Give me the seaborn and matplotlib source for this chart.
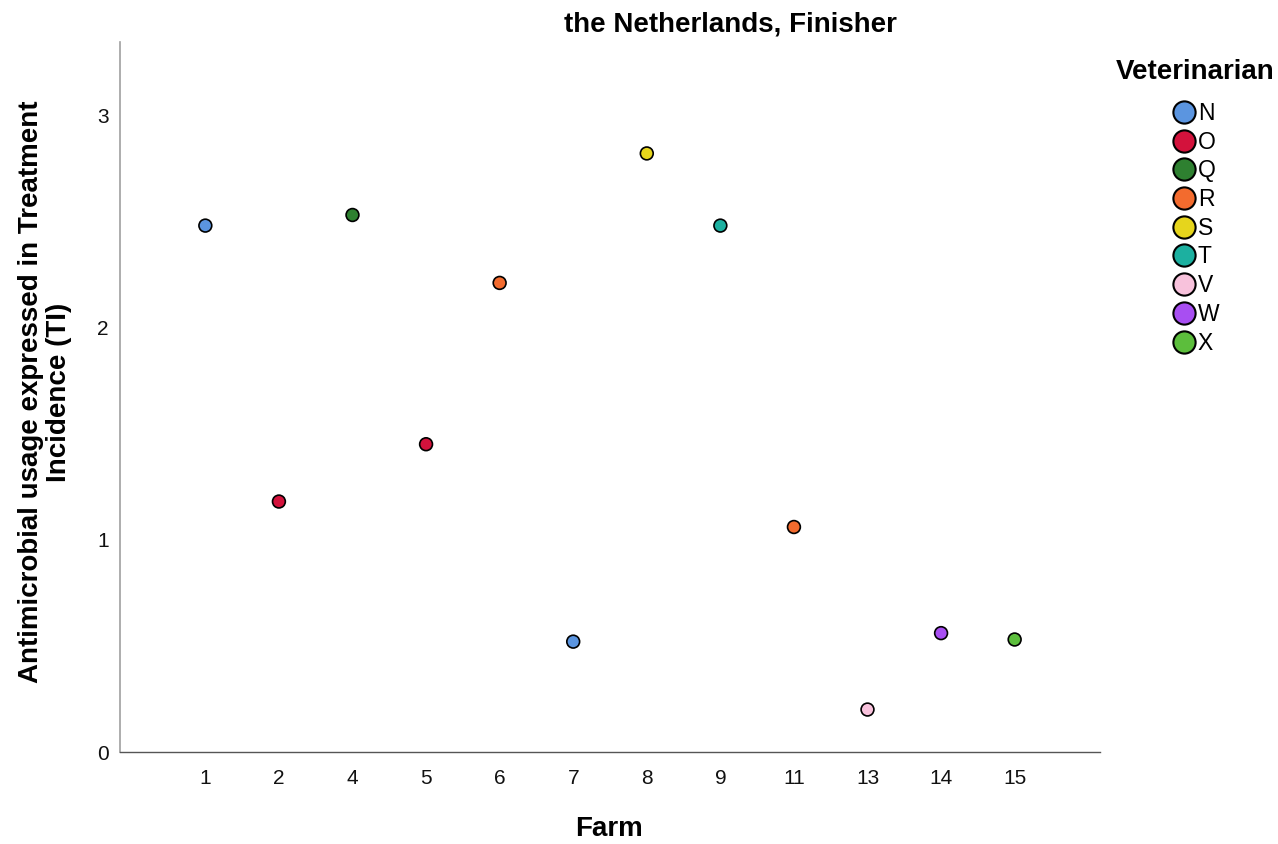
import seaborn as sns
import pandas as pd
import matplotlib.pyplot as plt
from matplotlib.lines import Line2D

farms = ["1", "2", "4", "5", "6", "7", "8", "9", "11", "13", "14", "15"]
usage = [2.48, 1.18, 2.53, 1.45, 2.21, 0.52, 2.82, 2.48, 1.06, 0.20, 0.56, 0.53]
vets = ["N", "O", "Q", "O", "R", "N", "S", "T", "R", "V", "W", "X"]

vet_order = ["N", "O", "Q", "R", "S", "T", "V", "W", "X"]
vet_colors = ["#5b95e0", "#d3123c", "#2e8030", "#f36b2e", "#e6d51c", "#1cb0a0", "#f8c2dc", "#a84ef2", "#5cbe3c"]
palette = dict(zip(vet_order, vet_colors))

df = pd.DataFrame({"Farm": farms, "TI": usage, "Veterinarian": vets})

sns.set_theme(style="white")
plt.rcParams['font.family'] = ['Liberation Sans', 'DejaVu Sans']
plt.rcParams['text.color'] = 'black'
plt.rcParams['axes.labelcolor'] = 'black'

fig = plt.figure(figsize=(12.78, 8.44), dpi=100)
ax = fig.add_axes([120 / 1278, 92 / 844, 980 / 1278, 710 / 844])

sns.scatterplot(data=df, x="Farm", y="TI", hue="Veterinarian", palette=palette,
                hue_order=vet_order, s=85, edgecolor="black", linewidth=1.2,
                legend=False, ax=ax, zorder=3)

ax.set_xlim(-1.16, 12.16)
ax.set_ylim(0, 3.345)
ax.set_yticks([0, 1, 2, 3])
ax.tick_params(axis="both", length=0, labelsize=15, labelcolor="#111111")
ax.tick_params(axis="x", pad=12)
ax.tick_params(axis="y", pad=8)
for side in ["top", "right"]:
    ax.spines[side].set_visible(False)
ax.spines["left"].set_color("#a0a0a0")
ax.spines["bottom"].set_color("#555555")
ax.spines["left"].set_linewidth(1.2)
ax.spines["bottom"].set_linewidth(1.0)

ax.set_xlabel("Farm", fontsize=20, fontweight="bold", va="top")
ax.xaxis.set_label_coords(0.499, -0.090)
ax.set_ylabel("Antimicrobial usage expressed in Treatment\nIncidence (TI)",
              fontsize=20, fontweight="bold", linespacing=1.1)
ax.yaxis.set_label_coords(-0.049, 0.507)

fig.text(730 / 1278, 1 - 24 / 844, "the Netherlands, Finisher", fontsize=20,
         fontweight="bold", ha="center", va="center")

handles = [Line2D([0], [0], marker="o", linestyle="", markersize=16,
                  markerfacecolor=palette[v], markeredgecolor="black",
                  markeredgewidth=1.5, label=v) for v in vet_order]
leg = fig.legend(handles=handles, title="Veterinarian", loc="upper left",
                 bbox_to_anchor=(1107 / 1278, 1 - 50 / 844), frameon=False,
                 fontsize=16.5, handletextpad=0.05, labelspacing=0.25,
                 borderaxespad=0, handlelength=1.1)
leg.get_title().set_fontsize(20)
leg.get_title().set_fontweight("bold")
leg._legend_box.sep = 12

fig.savefig("out.png", dpi=100)
